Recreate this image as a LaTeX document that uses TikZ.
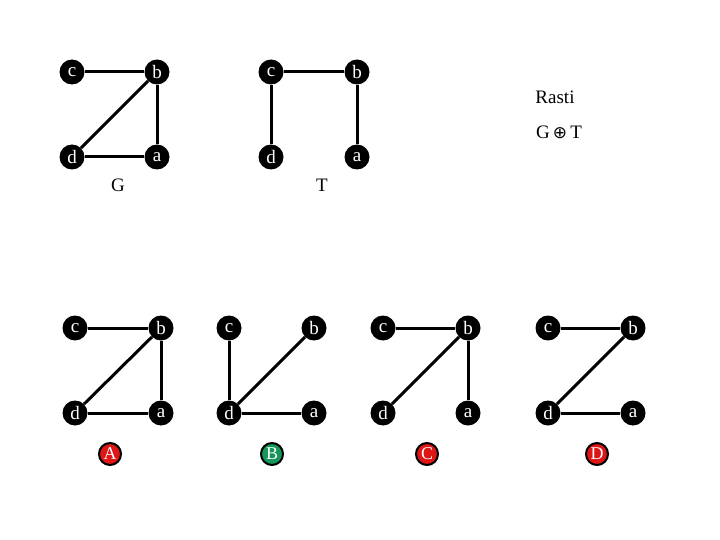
\documentclass[tikz,border=0pt]{standalone}
\usepackage{fontspec}
\setmainfont{Liberation Serif}
\newfontfamily\symfont{DejaVu Sans}
\definecolor{lblred}{RGB}{222,22,22}
\definecolor{lblgreen}{RGB}{22,150,90}
\begin{document}
\begin{tikzpicture}[x=1pt,y=-1pt,
  vtx/.style={circle,fill=black,text=white,minimum size=25pt,inner sep=0pt,font=\fontsize{19}{19}\selectfont},
  edge/.style={line width=3pt},
  captext/.style={font=\fontsize{19}{19}\selectfont},
  tag/.style={circle,draw=black,line width=2pt,text=white,minimum size=22pt,inner sep=0pt,font=\fontsize{18}{18}\selectfont}]
\useasboundingbox (0,0) rectangle (720,540);
% G
\node[vtx] (Gc) at (72,72) {c};
\node[vtx] (Gb) at (157,72) {b};
\node[vtx] (Gd) at (72,157) {d};
\node[vtx] (Ga) at (157,157) {a};
\node[captext] (Gl) at (118,185) {G};
% T
\node[vtx] (Tc) at (271,72) {c};
\node[vtx] (Tb) at (357,72) {b};
\node[vtx] (Td) at (271,157) {d};
\node[vtx] (Ta) at (357,157) {a};
\node[captext] (Tl) at (322,185) {T};
% text
\node[captext] (rasti) at (555,97) {Rasti};
\node[captext] (got) at (559,132) {G\,{\symfont\fontsize{17}{17}\selectfont ⊕}\,T};
% A
\node[vtx] (Ac) at (75,328) {c};
\node[vtx] (Ab) at (161,328) {b};
\node[vtx] (Ad) at (75,413) {d};
\node[vtx] (Aa) at (161,413) {a};
\node[tag,fill=lblred] (Al) at (110,454) {A};
% B
\node[vtx] (Bc) at (229,328) {c};
\node[vtx] (Bb) at (314,328) {b};
\node[vtx] (Bd) at (229,413) {d};
\node[vtx] (Ba) at (314,413) {a};
\node[tag,fill=lblgreen] (Bl) at (272,454) {B};
% C
\node[vtx] (Cc) at (383,328) {c};
\node[vtx] (Cb) at (468,328) {b};
\node[vtx] (Cd) at (383,413) {d};
\node[vtx] (Ca) at (468,413) {a};
\node[tag,fill=lblred] (Cl) at (427,454) {C};
% D
\node[vtx] (Dc) at (548,328) {c};
\node[vtx] (Db) at (633,328) {b};
\node[vtx] (Dd) at (548,413) {d};
\node[vtx] (Da) at (633,413) {a};
\node[tag,fill=lblred] (Dl) at (597,454) {D};
% edges
\draw[edge] (Gc) -- (Gb); \draw[edge] (Gb) -- (Gd); \draw[edge] (Gb) -- (Ga); \draw[edge] (Gd) -- (Ga);
\draw[edge] (Tc) -- (Tb); \draw[edge] (Tc) -- (Td); \draw[edge] (Tb) -- (Ta);
\draw[edge] (Ac) -- (Ab); \draw[edge] (Ab) -- (Ad); \draw[edge] (Ab) -- (Aa); \draw[edge] (Ad) -- (Aa);
\draw[edge] (Bc) -- (Bd); \draw[edge] (Bd) -- (Bb); \draw[edge] (Bd) -- (Ba);
\draw[edge] (Cc) -- (Cb); \draw[edge] (Cb) -- (Cd); \draw[edge] (Cb) -- (Ca);
\draw[edge] (Dc) -- (Db); \draw[edge] (Db) -- (Dd); \draw[edge] (Dd) -- (Da);
\end{tikzpicture}
\end{document}
